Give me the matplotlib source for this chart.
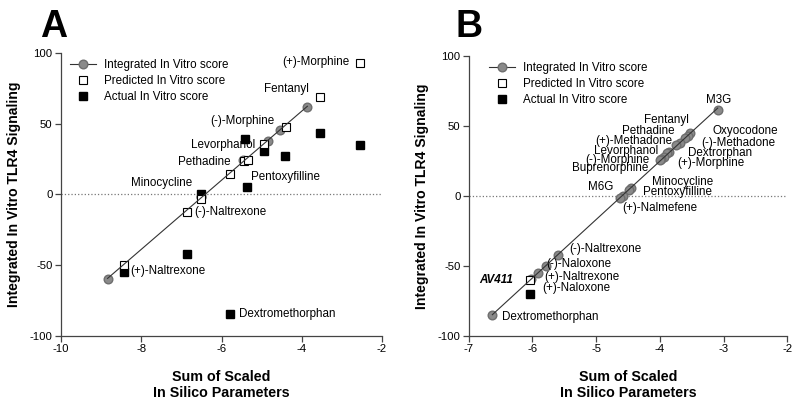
import matplotlib.pyplot as plt
import numpy as np
from matplotlib.lines import Line2D

plt.rcParams["font.family"] = ["Liberation Sans", "DejaVu Sans"]
plt.rcParams["axes.unicode_minus"] = False

# ---- panel A data ----
a_circle_x = [-8.84, -6.50, -5.47, -4.84, -4.55, -3.86]
a_circle_y = [-59.8, -2.0, 24.7, 37.7, 45.5, 61.7]

a_drugs = ["(+)-Morphine", "Fentanyl", "(-)-Morphine", "Levorphanol", "Pethadine",
           "Pentoxyfilline", "Minocycline", "(-)-Naltrexone", "(+)-Naltrexone",
           "Dextromethorphan"]
a_pred_x = [-2.54, -3.55, -4.40, -4.94, -5.44, -5.34, -6.50, -6.87, -8.43, -5.80]
a_pred_y = [93.0, 68.8, 47.7, 35.8, 24.0, 24.7, -3.0, -12.2, -49.5, 14.3]
a_act_x = [-2.56, -3.55, -4.41, -4.94, -5.41, -5.37, -6.50, -6.87, -8.43, -5.80]
a_act_y = [34.9, 43.6, 27.0, 30.4, 39.2, 5.2, 0.5, -41.8, -54.9, -84.8]

# label anchor points (data units) and alignment
a_label_x = [-2.81, -3.83, -4.68, -5.17, -5.77, -5.27, -6.72, -6.67, -8.28, -5.57]
a_label_y = [93.3, 74.2, 51.6, 35.3, 23.3, 12.7, 7.8, -12.7, -54.4, -84.8]
a_label_ha = ["right", "right", "right", "right", "right", "left", "right", "left", "left", "left"]

# ---- panel B data ----
b_drugs = ["M3G", "Oxyocodone", "Fentanyl", "Pethadine", "(-)-Methadone", "(+)-Methadone",
           "Dextrorphan", "Levorphanol", "(+)-Morphine", "(-)-Morphine", "Buprenorphine",
           "Minocycline", "Pentoxyfilline", "M6G", "(+)-Nalmefene", "(-)-Naltrexone",
           "(-)-Naloxone", "(+)-Naltrexone", "(+)-Naloxone", "Dextromethorphan"]
b_circle_x = [-3.09, -3.52, -3.56, -3.60, -3.69, -3.74, -3.85, -3.88, -3.93, -3.98, -4.00,
              -4.46, -4.48, -4.58, -4.63, -5.60, -5.78, -5.92, -6.02, -6.63]
b_circle_y = [61.4, 44.8, 43.0, 41.6, 38.0, 36.4, 31.7, 30.5, 28.0, 26.2, 25.4,
              5.5, 4.6, 0.0, -1.7, -42.0, -49.8, -54.8, -59.0, -85.0]
b_label_x = [-3.08, -3.18, -3.54, -3.77, -3.35, -3.80, -3.55, -4.02, -3.72, -4.16, -4.18,
             -4.13, -4.27, -4.73, -4.59, -5.42, -5.79, -5.81, -5.84, -6.48]
b_label_y = [68.6, 46.4, 54.3, 46.4, 37.9, 39.3, 30.7, 32.1, 23.6, 25.7, 20.0,
             10.0, 2.9, 6.4, -8.6, -37.9, -48.6, -57.9, -65.7, -86.4]
b_label_ha = ["center", "left", "right", "right", "left", "right", "left", "right", "left",
              "right", "right", "left", "left", "right", "left", "left", "left", "left",
              "left", "left"]

b_av411_pred = (-6.04, -60.0)
b_av411_act = (-6.04, -70.0)

GRAY = "#8a8a8a"
GRAY_EDGE = "#6e6e6e"
SPINE = "#444444"
MS = 6.2
FS = 8.4


def style_axes(ax, xlim, xticks):
    ax.set_xlim(*xlim)
    ax.set_ylim(-100, 100)
    ax.set_xticks(xticks)
    ax.set_yticks([-100, -50, 0, 50, 100])
    for s in ["top", "right"]:
        ax.spines[s].set_visible(False)
    for s in ["left", "bottom"]:
        ax.spines[s].set_color(SPINE)
        ax.spines[s].set_linewidth(0.9)
    ax.tick_params(direction="out", length=4, width=0.9, color=SPINE, labelsize=8.2, pad=2)
    ax.axhline(0, color="#777777", linestyle=":", linewidth=0.9, zorder=1)
    ax.set_xlabel("Sum of Scaled\nIn Silico Parameters", fontsize=10.3, fontweight="bold", labelpad=11)
    ax.set_ylabel("Integrated In Vitro TLR4 Signaling", fontsize=10.1, fontweight="bold", labelpad=6)


def add_legend(ax, x0):
    handles = [
        Line2D([], [], color="#333333", lw=0.8, marker="o", markersize=MS,
               markerfacecolor=GRAY, markeredgecolor=GRAY_EDGE),
        Line2D([], [], lw=0, marker="s", markersize=MS, markerfacecolor="white",
               markeredgecolor="black", markeredgewidth=0.8),
        Line2D([], [], lw=0, marker="s", markersize=MS, markerfacecolor="black",
               markeredgecolor="black"),
    ]
    labels = ["Integrated In Vitro score", "Predicted In Vitro score", "Actual In Vitro score"]
    ax.legend(handles, labels, loc="upper left", bbox_to_anchor=(x0, 1.015), frameon=False,
              fontsize=FS, handlelength=2.2, handletextpad=0.7, labelspacing=0.33)


def fit_line(ax, xs, ys):
    k, b = np.polyfit(xs, ys, 1)
    xx = np.array([min(xs), max(xs)])
    ax.plot(xx, k * xx + b, color="#333333", lw=0.8, zorder=5)


fig = plt.figure(figsize=(8, 4.03), dpi=100)
ax1 = fig.add_axes([0.07625, 0.1663, 0.40125, 0.7022])
ax2 = fig.add_axes([0.586, 0.1663, 0.398, 0.6948])

# panel A
style_axes(ax1, (-10, -2), [-10, -8, -6, -4, -2])
ax1.plot(a_circle_x, a_circle_y, "o", ms=MS, mfc=GRAY, mec=GRAY_EDGE, zorder=2)
fit_line(ax1, a_circle_x, a_circle_y)
ax1.plot(a_pred_x, a_pred_y, "s", ms=MS, mfc="white", mec="black", mew=0.8, zorder=4)
ax1.plot(a_act_x, a_act_y, "s", ms=MS, mfc="black", mec="black", zorder=3)
for name, lx, ly, ha in zip(a_drugs, a_label_x, a_label_y, a_label_ha):
    ax1.text(lx, ly, name, ha=ha, va="center", fontsize=FS)
add_legend(ax1, -0.005)

# panel B
style_axes(ax2, (-7, -2), [-7, -6, -5, -4, -3, -2])
ax2.plot(b_circle_x, b_circle_y, "o", ms=MS, mfc=GRAY, mec=GRAY_EDGE, zorder=2)
fit_line(ax2, b_circle_x, b_circle_y)
ax2.plot(*b_av411_pred, "s", ms=MS, mfc="white", mec="black", mew=0.8, zorder=4)
ax2.plot(*b_av411_act, "s", ms=MS, mfc="black", mec="black", zorder=3)
for name, lx, ly, ha in zip(b_drugs, b_label_x, b_label_y, b_label_ha):
    ax2.text(lx, ly, name, ha=ha, va="center", fontsize=FS, linespacing=0.9)
ax2.text(-6.31, -60, "AV411", ha="right", va="center", fontsize=FS,
         fontweight="bold", fontstyle="italic")
add_legend(ax2, 0.03)

fig.text(0.05, 0.908, "A", fontsize=27, fontweight="bold", va="baseline")
fig.text(0.57, 0.908, "B", fontsize=27, fontweight="bold", va="baseline")

fig.savefig("out.png", dpi=100)
